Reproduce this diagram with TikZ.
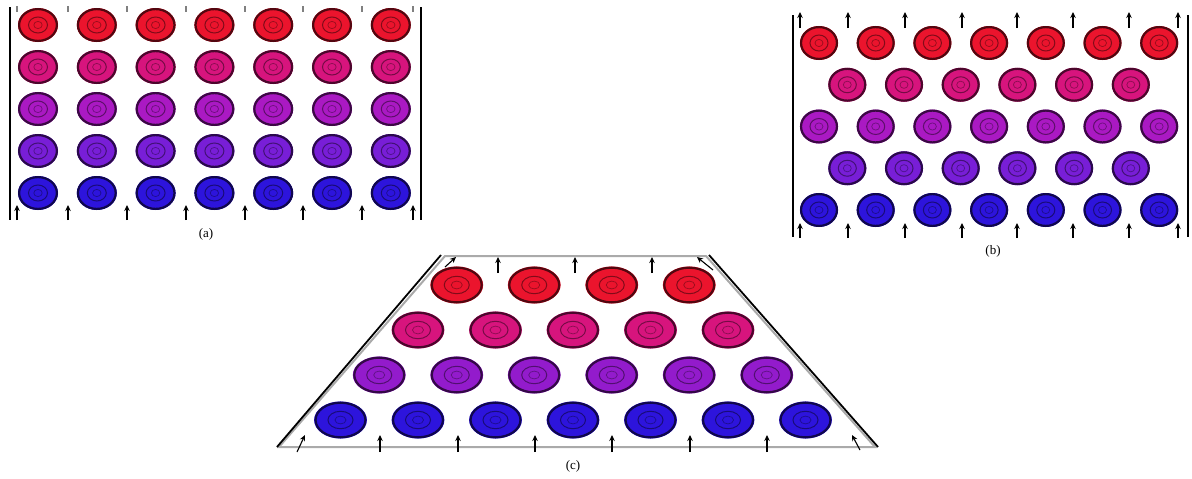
\documentclass[tikz,border=0pt]{standalone}
\usepackage{fontspec}
\setmainfont{Liberation Serif}
\definecolor{beadRed}{RGB}{235,20,45}
\definecolor{beadRose}{RGB}{215,20,125}
\definecolor{beadPurple}{RGB}{170,25,195}
\definecolor{beadViolet}{RGB}{120,30,215}
\definecolor{beadBlue}{RGB}{45,20,220}
\definecolor{railGray}{RGB}{170,170,170}
\usetikzlibrary{arrows.meta}

\tikzset{
  pics/bead/.style={code={
    \fill[#1] (0,0) ellipse [x radius=20pt, y radius=17pt];
    \draw[#1!35!black, line width=2.2pt] (0,0) ellipse [x radius=18.9pt, y radius=15.9pt];
    \draw[#1!55!black, line width=1pt] (0,0) ellipse [x radius=9.5pt, y radius=8pt];
    \draw[#1!65!black, line width=0.7pt] (0,0) ellipse [x radius=4.2pt, y radius=3.6pt];
  }}
}

\begin{document}
\begin{tikzpicture}[x=1pt, y=-1pt,
  wall/.style={line width=1.8pt, black},
  rail/.style={line width=2pt, railGray},
  flow/.style={-{Stealth[length=6pt,width=5.5pt]}, line width=1.1pt},
  tick/.style={line width=1.3pt, gray},
  tag/.style={font=\fontsize{13pt}{15pt}\selectfont}
]
\useasboundingbox (0,0) rectangle (1192,479);

% (a) straight channel
\draw[wall] (10,7) -- (10,220);
\draw[wall, line width=2.4pt] (421,7) -- (421,220);
\foreach \col [count=\r from 0] in {beadRed,beadRose,beadPurple,beadViolet,beadBlue}
  \foreach \c in {0,...,6}
    \pic at ({38+58.8*\c},{25+42*\r}) {bead=\col};
\foreach \x in {17,68,127,186,245,303,362,413}{
  \draw[tick] (\x,6) -- (\x,12);
  \draw[flow] (\x,220) -- (\x,205);
}
\node[tag] (labA) at (206,234) {(a)};

% (b) staggered channel
\draw[wall] (793,15) -- (793,237);
\draw[wall] (1188,15) -- (1188,237);
\foreach \col/\n/\xs [count=\r from 0] in {beadRed/6/819, beadRose/5/847.3, beadPurple/6/819, beadViolet/5/847.3, beadBlue/6/819}
  \foreach \c in {0,...,\n}
    \pic[xscale=0.95] at ({\xs+56.7*\c},{43+41.75*\r}) {bead=\col};
\foreach \x in {800,848,905,962,1017,1073,1129,1178}{
  \draw[flow] (\x,28) -- (\x,12);
  \draw[flow] (\x,238) -- (\x,223);
}
\node[tag] (labB) at (993,251) {(b)};

% (c) converging channel
\draw[rail] (279,447) -- (445,256) -- (706,256) -- (875,447) -- cycle;
\draw[wall] (277,447) -- (441,255);
\draw[wall] (709,255) -- (878,447);
\foreach \col/\n [count=\r from 0] in {beadRed/4, beadRose/5, beadPurple!55!beadViolet/6, beadBlue/7}
  \foreach \c in {1,...,\n}
    \pic[xscale=1.32, yscale=1.09] at ({573+77.5*(\c-(\n+1)/2)},{285+45*\r}) {bead=\col};
\foreach \x in {380,458,535,612,690,767}
  \draw[flow] (\x,452) -- (\x,435);
\foreach \x in {498,575,652}
  \draw[flow] (\x,273) -- (\x,257);
\draw[flow] (297,452) -- (305,435);
\draw[flow] (860,450) -- (852,435);
\draw[flow] (445,267) -- (456,257);
\draw[flow] (713,270) -- (697,257);
\node[tag] (labC) at (573,466) {(c)};
\end{tikzpicture}
\end{document}
